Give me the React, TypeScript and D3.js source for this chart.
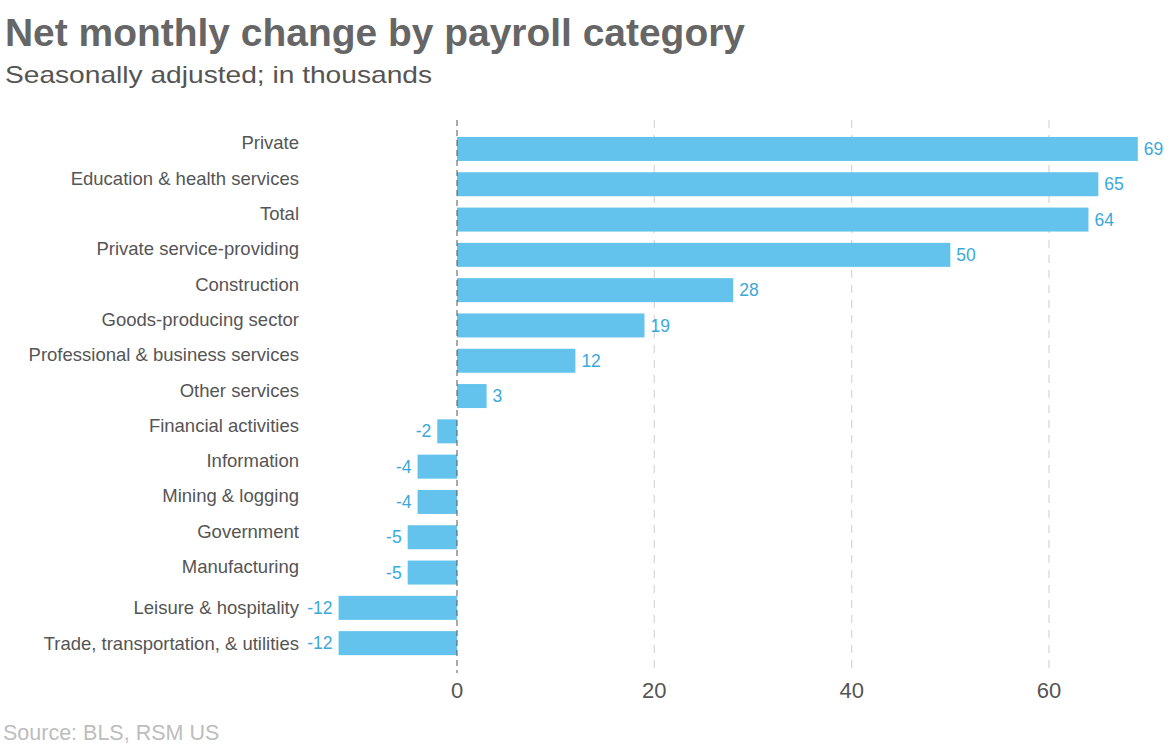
import React, { useEffect, useRef } from "react";
import * as d3 from "d3";

const categories = [
  "Private",
  "Education & health services",
  "Total",
  "Private service-providing",
  "Construction",
  "Goods-producing sector",
  "Professional & business services",
  "Other services",
  "Financial activities",
  "Information",
  "Mining & logging",
  "Government",
  "Manufacturing",
  "Leisure & hospitality",
  "Trade, transportation, & utilities",
];
const values = [69, 65, 64, 50, 28, 19, 12, 3, -2, -4, -4, -5, -5, -12, -12];
const ticks = [0, 20, 40, 60];

const App = () => {
  const chartRef = useRef<HTMLDivElement>(null);

  useEffect(() => {
    const width = 1175;
    const height = 753;
    const font = "'Liberation Sans', Arial, sans-serif";

    document.body.style.margin = "0";
    d3.select(chartRef.current).selectAll("*").remove();

    const svg = d3
      .select(chartRef.current)
      .append("svg")
      .attr("width", width)
      .attr("height", height)
      .style("display", "block");

    // Title + subtitle
    svg
      .append("text")
      .attr("x", 5)
      .attr("y", 46)
      .attr("font-family", font)
      .attr("font-weight", "bold")
      .attr("font-size", 38)
      .attr("fill", "#666")
      .attr("textLength", 740)
      .attr("lengthAdjust", "spacingAndGlyphs")
      .text("Net monthly change by payroll category");

    svg
      .append("text")
      .attr("x", 5)
      .attr("y", 83)
      .attr("font-family", font)
      .attr("font-size", 24)
      .attr("fill", "#555")
      .attr("textLength", 427)
      .attr("lengthAdjust", "spacingAndGlyphs")
      .text("Seasonally adjusted; in thousands");

    // Scales
    const x = d3.scaleLinear().domain([0, 60]).range([457, 1049]);
    const y = d3
      .scaleBand()
      .domain(categories)
      .range([131.3, 131.3 + 15 * 35.3])
      .paddingInner(0.32)
      .paddingOuter(0.16);

    // Gridlines
    svg
      .append("g")
      .selectAll("line")
      .data(ticks.filter((t) => t !== 0))
      .join("line")
      .attr("x1", (d) => x(d))
      .attr("x2", (d) => x(d))
      .attr("y1", 120)
      .attr("y2", 673)
      .attr("stroke", "#d9d9d9")
      .attr("stroke-width", 1.3)
      .attr("stroke-dasharray", "8,7");

    // Bars
    svg
      .append("g")
      .selectAll("rect")
      .data(values)
      .join("rect")
      .attr("x", (d) => x(Math.min(0, d)))
      .attr("y", (d, i) => y(categories[i])!)
      .attr("width", (d) => Math.abs(x(d) - x(0)))
      .attr("height", y.bandwidth())
      .attr("fill", "#63c3ec");

    // Zero line
    svg
      .append("line")
      .attr("x1", x(0))
      .attr("x2", x(0))
      .attr("y1", 120)
      .attr("y2", 673)
      .attr("stroke", "#555")
      .attr("stroke-width", 1)
      .attr("stroke-dasharray", "6,4");

    // Category labels (shifted up, except where the value label sits beside them)
    svg
      .append("g")
      .selectAll("text")
      .data(categories)
      .join("text")
      .attr("x", 299)
      .attr("y", (d, i) => y(d)! + y.bandwidth() / 2 + (values[i] <= -10 ? 0 : -6))
      .attr("dy", "0.35em")
      .attr("text-anchor", "end")
      .attr("font-family", font)
      .attr("font-size", 18.5)
      .attr("fill", "#555")
      .text((d) => d);

    // Value labels
    svg
      .append("g")
      .selectAll("text")
      .data(values)
      .join("text")
      .attr("x", (d) => (d >= 0 ? x(d) + 6 : x(d) - 6))
      .attr("y", (d, i) => y(categories[i])! + y.bandwidth() / 2)
      .attr("dy", "0.35em")
      .attr("text-anchor", (d) => (d >= 0 ? "start" : "end"))
      .attr("font-family", font)
      .attr("font-size", 17.5)
      .attr("fill", "#3aa9d9")
      .text((d) => d);

    // X axis tick labels
    svg
      .append("g")
      .selectAll("text")
      .data(ticks)
      .join("text")
      .attr("x", (d) => x(d))
      .attr("y", 690)
      .attr("dy", "0.35em")
      .attr("text-anchor", "middle")
      .attr("font-family", font)
      .attr("font-size", 22)
      .attr("fill", "#555")
      .text((d) => d);

    // Source
    svg
      .append("text")
      .attr("x", 3)
      .attr("y", 740)
      .attr("font-family", font)
      .attr("font-size", 21.5)
      .attr("fill", "#bdbdbd")
      .text("Source: BLS, RSM US");
  }, []);

  return <div ref={chartRef}></div>;
};

export default App;
